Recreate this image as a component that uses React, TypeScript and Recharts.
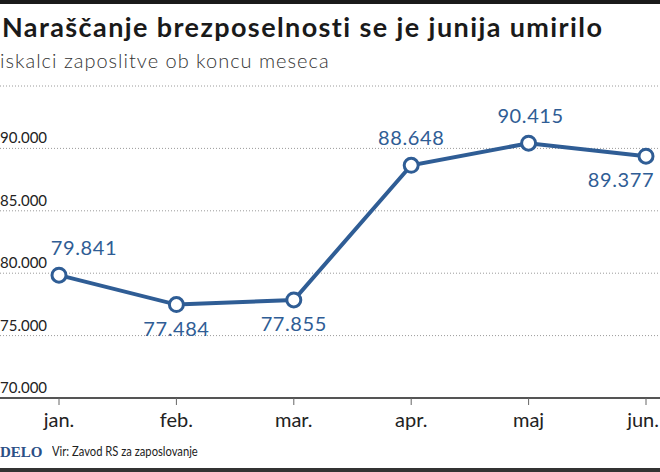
import React from 'react';
import { LineChart, Line, XAxis, YAxis, CartesianGrid, LabelList } from 'recharts';

const months = ['jan.', 'feb.', 'mar.', 'apr.', 'maj', 'jun.'];
const jobSeekers = [79841, 77484, 77855, 88648, 90415, 89377];
const yTicks = [70000, 75000, 80000, 85000, 90000, 95000];

const BLUE = '#2f5d95';
const FONT = 'Lato, "Noto Sans", sans-serif';
const WIDTH = 660;

const data = months.map((m, i) => ({ month: m, value: jobSeekers[i] }));

const fmt = (v: number) => v.toLocaleString('de-DE');

// label placement per point: above or below, plus a small horizontal nudge
const labelPlacement = [
  { above: true, dx: 25 },
  { above: false, dx: 0 },
  { above: false, dx: 0 },
  { above: true, dx: 0 },
  { above: true, dx: 2 },
  { above: false, dx: -25 },
];

const ValueLabel = (props: any) => {
  const { x, y, value, index } = props;
  const p = labelPlacement[index] || { above: true, dx: 0 };
  return (
    <text
      x={x + p.dx}
      y={p.above ? y - 20 : y + 31}
      textAnchor="middle"
      fill={BLUE}
      fontSize={20}
      letterSpacing={0.6}
      fontFamily={FONT}
    >
      {fmt(value)}
    </text>
  );
};

const YTick = (props: any) => {
  const { y, payload } = props;
  if (payload.value === 95000) return null;
  return (
    <text x={0} y={y - 5} textAnchor="start" fill="#222" fontSize={15} fontFamily={FONT}>
      {fmt(payload.value)}
    </text>
  );
};

const XTick = (props: any) => {
  const { x, y, payload } = props;
  // keep the last label inside the frame
  const nearEdge = x > WIDTH - 25;
  return (
    <text
      x={nearEdge ? WIDTH - 1 : x}
      y={y + 20}
      textAnchor={nearEdge ? 'end' : 'middle'}
      fill="#222"
      fontSize={20}
      fontFamily={FONT}
    >
      {payload.value}
    </text>
  );
};

export default function App() {
  return (
    <div style={{ position: 'relative', width: WIDTH, height: 472, background: '#fff', overflow: 'hidden', fontFamily: FONT }}>
      <style>{`body{margin:0}`}</style>
      <div style={{ position: 'absolute', left: 0, top: 0, width: WIDTH, height: 4, background: '#1a1a1a' }} />
      <div style={{ position: 'absolute', left: 2, top: 11, fontSize: 27, fontWeight: 700, color: '#1a1a1a', lineHeight: '32px', letterSpacing: 1.4, whiteSpace: 'nowrap' }}>
        Naraščanje brezposelnosti se je junija umirilo
      </div>
      <div style={{ position: 'absolute', left: 0, top: 47, fontSize: 20, fontWeight: 300, color: '#333', lineHeight: '26px', letterSpacing: 1, whiteSpace: 'nowrap' }}>
        iskalci zaposlitve ob koncu meseca
      </div>
      <div style={{ position: 'absolute', left: 0, top: 0 }}>
        <LineChart width={WIDTH} height={472} data={data} margin={{ top: 86, right: 0, left: 0, bottom: 0 }}>
          <CartesianGrid horizontal vertical={false} stroke="#9a9a9a" strokeDasharray="1 2" />
          <XAxis
            dataKey="month"
            height={74}
            padding={{ left: 59, right: 14 }}
            axisLine={{ stroke: '#555', strokeWidth: 2 }}
            tickLine={{ stroke: '#666', strokeWidth: 1 }}
            tickSize={7}
            tick={<XTick />}
            interval={0}
          />
          <YAxis
            width={1}
            mirror
            domain={[70000, 95000]}
            ticks={yTicks}
            axisLine={false}
            tickLine={false}
            tick={<YTick />}
            interval={0}
          />
          <Line
            type="linear"
            dataKey="value"
            stroke={BLUE}
            strokeWidth={4}
            dot={{ r: 7, fill: '#fff', stroke: BLUE, strokeWidth: 3 }}
            isAnimationActive={false}
          >
            <LabelList dataKey="value" content={<ValueLabel />} />
          </Line>
        </LineChart>
      </div>
      <div style={{ position: 'absolute', left: 0, top: 443, fontFamily: '"Liberation Serif", serif', fontWeight: 700, fontSize: 15, color: '#2b4f86', lineHeight: '18px' }}>
        DELO
      </div>
      <div style={{ position: 'absolute', left: 52, top: 442, fontSize: 14, color: '#222', lineHeight: '18px', whiteSpace: 'nowrap', transform: 'scaleX(0.8)', transformOrigin: 'left center' }}>
        Vir: Zavod RS za zaposlovanje
      </div>
      <div style={{ position: 'absolute', left: 0, top: 468, width: WIDTH, height: 4, background: '#333' }} />
    </div>
  );
}
